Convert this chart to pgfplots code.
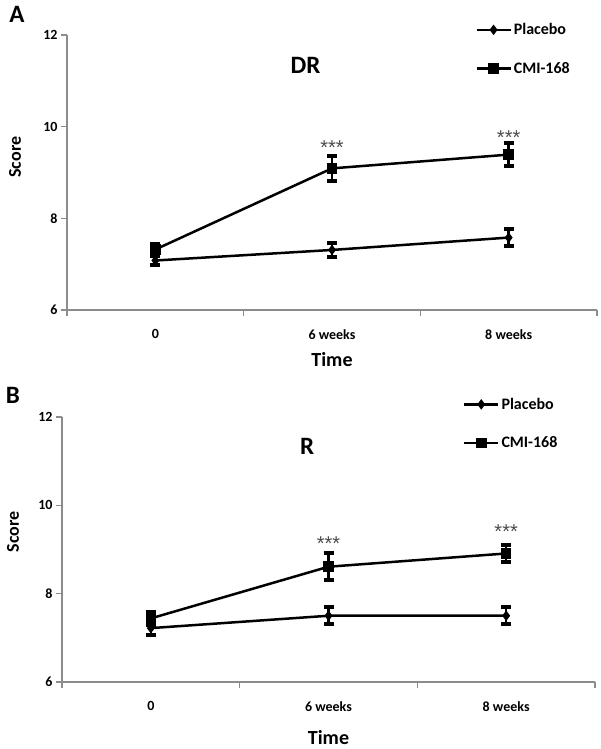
\documentclass[border=0pt]{standalone}
\usepackage{fontspec}
\setmainfont{Carlito}
\newfontfamily\starfont{Liberation Sans}
\usepackage{pgfplots}
\usepackage{pgfplotstable}
\pgfplotsset{compat=1.18}
\definecolor{axgray}{gray}{0.55}
\definecolor{stargray}{gray}{0.3}

\pgfplotstableread{
x y e
0 7.08 0.10
1 7.31 0.15
2 7.58 0.18
}\plaA
\pgfplotstableread{
x y e
0 7.32 0.13
1 9.09 0.27
2 9.39 0.25
}\cmiA
\pgfplotstableread{
x y e
0 7.22 0.15
1 7.50 0.19
2 7.50 0.19
}\plaB
\pgfplotstableread{
x y e
0 7.44 0.15
1 8.61 0.30
2 8.91 0.20
}\cmiB

\pgfplotsset{
 panel/.style={
  scale only axis,
  xmin=-0.5, xmax=2.5, ymin=6, ymax=12,
  axis lines*=left,
  axis line style={axgray, line width=1.2pt},
  ytick={6,8,10,12},
  xtick={-0.5,0.5,1.5,2.5}, xticklabels={},
  extra x ticks={0,1,2}, extra x tick labels={0,6 weeks,8 weeks},
  extra x tick style={major tick length=0pt},
  tick align=outside, major tick length=6pt,
  tick style={axgray, line width=1.2pt},
  /pgf/number format/assume math mode=true,
  ticklabel style={font=\fontsize{14}{16}\selectfont\bfseries},
  xticklabel style={yshift=-16pt},
  xlabel={Time}, ylabel={Score},
  xlabel style={font=\fontsize{20}{24}\selectfont\bfseries, anchor=center},
  ylabel style={font=\fontsize{18}{22}\selectfont\bfseries, anchor=center},
  legend style={draw=none, fill=none, font=\fontsize{16}{18}\selectfont\bfseries, anchor=north west, row sep=22pt, inner sep=0pt},
  legend cell align=left,
  legend image code/.code={\draw[##1, mark repeat=2, mark phase=2] plot coordinates {(0pt,0pt)(17pt,0pt)(34pt,0pt)};},
  clip=false,
 },
 ser/.style={black, line width=2.5pt,
   error bars/y dir=both, error bars/y explicit,
   error bars/error mark=|,
   error bars/error bar style={line width=2.5pt, black},
   error bars/error mark options={line width=4pt, mark size=5pt, black}},
}

\begin{document}
\begin{tikzpicture}[x=1pt,y=1pt]
\useasboundingbox (0,0) rectangle (600,749);

\begin{axis}[panel, at={(67pt,439pt)}, anchor=south west, width=530pt, height=275pt,
  legend style={at={(axis description cs:0.77,1.05)}},
  xlabel style={at={(axis description cs:0.5,-0.18)}},
  ylabel style={at={(axis description cs:-0.098,0.556)}}]
\addplot[ser, mark=diamond*, mark size=3.2pt] table[x=x,y=y,y error=e] {\plaA};
\addlegendentry{Placebo}
\addplot[ser, mark=square*, mark size=4pt] table[x=x,y=y,y error=e] {\cmiA};
\addlegendentry{CMI-168}
\node[font=\starfont\fontsize{20}{20}\selectfont, text=stargray] at (axis cs:1,9.54) {***};
\node[font=\starfont\fontsize{20}{20}\selectfont, text=stargray] at (axis cs:2,9.76) {***};
\node[font=\fontsize{25}{29}\selectfont\bfseries] at (axis description cs:0.45,0.89) {DR};
\end{axis}

\begin{axis}[panel, at={(62pt,67pt)}, anchor=south west, width=533pt, height=265pt,
  legend style={at={(axis description cs:0.752,1.08)}},
  xlabel style={at={(axis description cs:0.5,-0.21)}},
  ylabel style={at={(axis description cs:-0.092,0.566)}}]
\addplot[ser, mark=diamond*, mark size=3.2pt] table[x=x,y=y,y error=e] {\plaB};
\addlegendentry{Placebo}
\addplot[ser, mark=square*, mark size=4pt] table[x=x,y=y,y error=e] {\cmiB};
\addlegendentry{CMI-168}
\node[font=\starfont\fontsize{20}{20}\selectfont, text=stargray] at (axis cs:1,9.13) {***};
\node[font=\starfont\fontsize{20}{20}\selectfont, text=stargray] at (axis cs:2,9.40) {***};
\node[font=\fontsize{25}{29}\selectfont\bfseries] at (axis description cs:0.46,0.89) {R};
\end{axis}

\node[font=\fontsize{25}{29}\selectfont\bfseries] at (17,735) {A};
\node[font=\fontsize{25}{29}\selectfont\bfseries] at (13,354) {B};
\end{tikzpicture}
\end{document}
